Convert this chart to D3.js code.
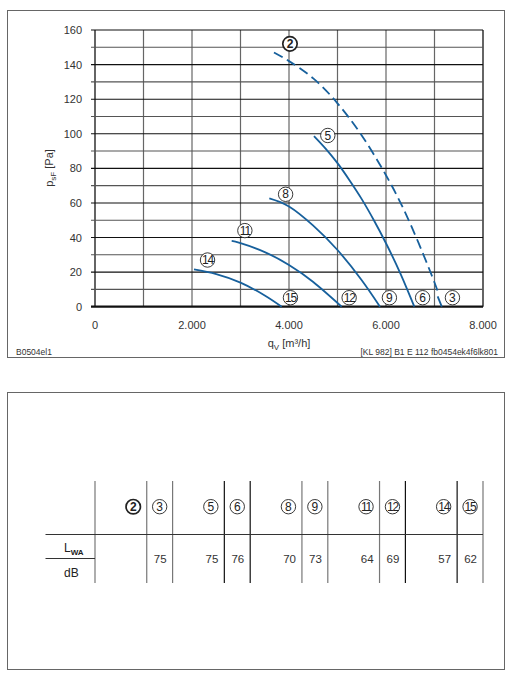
<!DOCTYPE html>
<html lang="en">
<head>
    <meta charset="utf-8">
    <title>Fan curves</title>
    <script src="https://cdn.jsdelivr.net/npm/d3@7"></script>
</head>
<style>
    body { margin: 0; background: #fff; }
    text { font-family: "Liberation Sans", Arial, sans-serif; }
</style>
<body>
<script>

 // curve data: [qV m3/h, psF Pa]
 var curve2  = [[3690,147],[4000,142],[4500,132],[5000,117.6],[5500,99],[6000,76],[6500,48],[7000,14],[7040,9.5]];
 var curve3  = [[7065,6],[7150,0]];
 var curve5  = [[4515,98.7],[4750,91.6],[5000,83],[5250,73],[5500,62.2],[5750,50],[6000,36.7],[6300,19],[6584,0]];
 var curve8  = [[3594,62.7],[4000,58],[4500,46.9],[5000,32.8],[5500,15.3],[5876,0]];
 var curve11 = [[2818,38],[3000,36.7],[3500,31.6],[4000,24.1],[4500,14.3],[5086,0]];
 var curve14 = [[2041,21.6],[2500,18.9],[3000,13.9],[3500,6.5],[3849,0]];

 // curve label anchors (data units)
 var labelIds = ["2","5","8","11","14","15","12","9","6","3"];
 var labelX   = [4020,4800,3930,3090,2320,4030,5240,6070,6755,7370];
 var labelY   = [152,99,65,44,27,5.2,5.2,5.2,5.2,5.2];

 var xTicks = [0,2000,4000,6000,8000];
 var yTicks = [0,20,40,60,80,100,120,140,160];

 // sound table
 var tableIds    = ["2","3","5","6","8","9","11","12","14","15"];
 var tableValues = [null,75,75,76,70,73,64,69,57,62];

 var blue = "#17609c";

 var svg = d3.select("body").append("svg")
             .attr("width", 510)
             .attr("height", 680);

 // frames
 svg.append("rect").attr("x", 7.5).attr("y", 10.5).attr("width", 497).attr("height", 347)
    .attr("fill", "none").attr("stroke", "#666").attr("stroke-width", 1);
 svg.append("rect").attr("x", 7.5).attr("y", 392.5).attr("width", 497).attr("height", 277)
    .attr("fill", "none").attr("stroke", "#666").attr("stroke-width", 1);

 var x = d3.scaleLinear().domain([0, 8000]).range([95, 483]);
 var y = d3.scaleLinear().domain([0, 160]).range([306.7, 30]);

 var g = svg.append("g");

 // grid
 g.selectAll("line.vg").data(d3.range(0, 8001, 1000)).enter().append("line")
  .attr("x1", function(d){ return x(d); }).attr("x2", function(d){ return x(d); })
  .attr("y1", y(0)).attr("y2", y(160))
  .attr("stroke", function(d){ return (d == 0 || d == 8000) ? "#111" : "#666"; })
  .attr("stroke-width", function(d){ return (d == 0 || d == 8000) ? 1.3 : 1.2; });

 g.selectAll("line.hg").data(d3.range(0, 161, 10)).enter().append("line")
  .attr("x1", x(0) - 4).attr("x2", x(8000))
  .attr("y1", function(d){ return y(d); }).attr("y2", function(d){ return y(d); })
  .attr("stroke", function(d){ return d % 20 == 0 ? "#111" : "#555"; })
  .attr("stroke-width", function(d){ return d == 0 ? 2.2 : 1.1; });

 // tick labels
 var fmt = d3.formatLocale({decimal: ",", thousands: ".", grouping: [3], currency: ["", ""]}).format(",");
 g.selectAll("text.xt").data(xTicks).enter().append("text")
  .attr("x", function(d){ return x(d); }).attr("y", 329)
  .attr("text-anchor", "middle").attr("font-size", 11).attr("fill", "#333")
  .text(function(d){ return fmt(d); });

 g.selectAll("text.yt").data(yTicks).enter().append("text")
  .attr("x", 82).attr("y", function(d){ return y(d) + 4; })
  .attr("text-anchor", "end").attr("font-size", 11).attr("fill", "#333")
  .text(function(d){ return d; });

 // axis titles
 var xt = g.append("text").attr("x", 289).attr("y", 347).attr("text-anchor", "middle")
           .attr("font-size", 11).attr("fill", "#333");
 xt.append("tspan").text("q");
 xt.append("tspan").attr("font-size", 8).attr("dy", 3).text("V");
 xt.append("tspan").attr("dy", -3).text(" [m³/h]");

 var yt = g.append("text").attr("transform", "translate(53,168) rotate(-90)")
           .attr("text-anchor", "middle").attr("font-size", 11).attr("fill", "#333");
 yt.append("tspan").text("p");
 yt.append("tspan").attr("font-size", 8).attr("dy", 3).text("sF");
 yt.append("tspan").attr("dy", -3).text(" [Pa]");

 // footer
 svg.append("text").attr("x", 16).attr("y", 355).attr("font-size", 8.5).attr("fill", "#333").text("B0504el1");
 svg.append("text").attr("x", 498).attr("y", 355).attr("text-anchor", "end").attr("font-size", 8.5)
    .attr("fill", "#333").text("[KL 982] B1 E 112 fb0454ek4f6lk801");

 // curves
 var lineFunction = d3.line()
                      .x(function(d){ return x(d[0]); })
                      .y(function(d){ return y(d[1]); })
                      .curve(d3.curveNatural);

 g.append("path").attr("d", lineFunction(curve2)).attr("fill", "none")
  .attr("stroke", blue).attr("stroke-width", 1.8).attr("stroke-dasharray", "10,5");

 [curve3, curve5, curve8, curve11, curve14].forEach(function(c){
     g.append("path").attr("d", lineFunction(c)).attr("fill", "none")
      .attr("stroke", blue).attr("stroke-width", 1.8);
 });

 function circled(sel, cx, cy, id, bold) {
     sel.append("circle").attr("cx", cx).attr("cy", cy).attr("r", 7.2)
        .attr("fill", "#fff").attr("stroke", "#222").attr("stroke-width", bold ? 1.7 : 0.9);
     sel.append("text").attr("x", cx).attr("y", cy + 4.2).attr("text-anchor", "middle")
        .attr("font-size", 12).attr("font-weight", bold ? "bold" : "normal")
        .attr("fill", "#222").attr("letter-spacing", id.length > 1 ? -1.2 : 0).text(id);
 }

 labelIds.forEach(function(id, i){
     circled(g, x(labelX[i]), y(labelY[i]), id, id == "2");
 });

 // table
 var groups = d3.scaleBand().domain(d3.range(5)).range([95, 483]).paddingInner(0);
 var bw = groups.bandwidth();
 var colLeft = [], colRight = [];
 tableIds.forEach(function(id, i){
     var gx = groups(Math.floor(i / 2));
     if (i % 2 == 0) { colLeft.push(gx); colRight.push(gx + bw * 2 / 3); }
     else { colLeft.push(gx + bw * 2 / 3); colRight.push(gx + bw); }
 });

 var t = svg.append("g");
 var vlines = [95].concat(colRight);
 t.selectAll("line.tv").data(vlines).enter().append("line")
  .attr("x1", function(d){ return d; }).attr("x2", function(d){ return d; })
  .attr("y1", 481).attr("y2", 583)
  .attr("stroke", function(d, i){ return (i == 3 || i == 4 || i == 8 || i == 9) ? "#111" : "#777"; })
  .attr("stroke-width", 1.2);

 t.append("line").attr("x1", 45.5).attr("x2", 483).attr("y1", 534.5).attr("y2", 534.5)
  .attr("stroke", "#333").attr("stroke-width", 1.2);
 t.append("line").attr("x1", 45.5).attr("x2", 95).attr("y1", 558.5).attr("y2", 558.5)
  .attr("stroke", "#333").attr("stroke-width", 1.2);

 var lwa = t.append("text").attr("x", 64).attr("y", 552).attr("font-size", 12).attr("fill", "#222");
 lwa.append("tspan").text("L");
 lwa.append("tspan").attr("dy", 3).attr("font-size", 8).attr("font-weight", "bold").text("WA");
 t.append("text").attr("x", 64).attr("y", 577).attr("font-size", 12).attr("fill", "#222").text("dB");

 tableIds.forEach(function(id, i){
     var cx = (i % 2 == 0) ? colRight[i] - 13.5 : (colLeft[i] + colRight[i]) / 2;
     circled(t, cx, 506.7, id, id == "2");
     if (tableValues[i] != null) {
         t.append("text").attr("x", colRight[i] - 6).attr("y", 563)
          .attr("text-anchor", "end").attr("font-size", 11.5).attr("fill", "#333")
          .text(tableValues[i]);
     }
 });

</script>
</body>
</html>
